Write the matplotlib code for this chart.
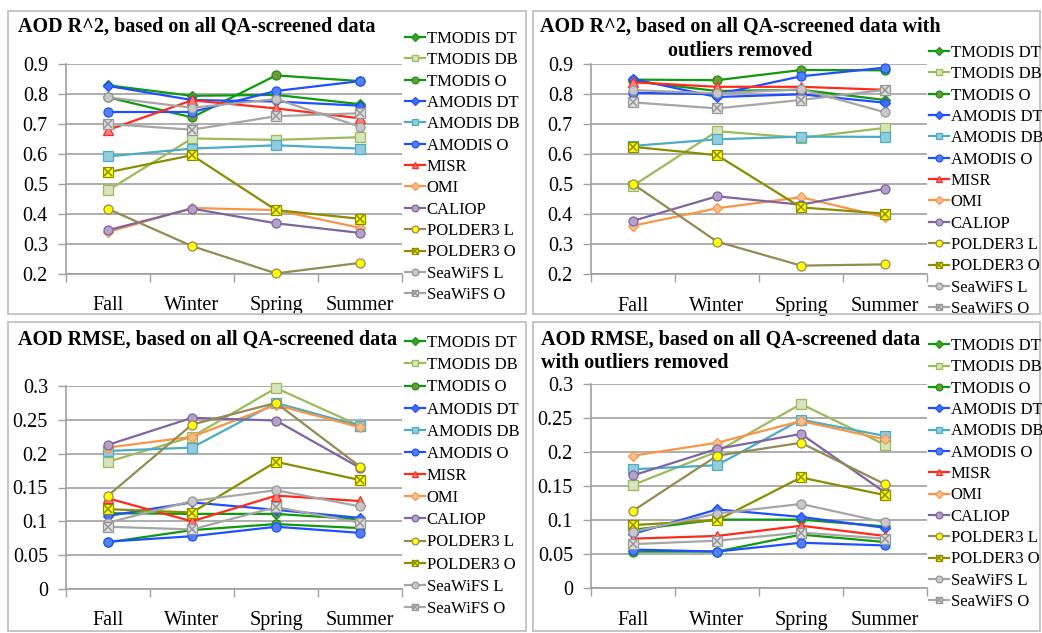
import numpy as np
import matplotlib
matplotlib.use('Agg')
import matplotlib.pyplot as plt
from matplotlib.patches import Rectangle
from matplotlib.ticker import FixedLocator, FuncFormatter

plt.rcParams['font.family'] = 'Liberation Serif'

seasons = ['Fall', 'Winter', 'Spring', 'Summer']
products = ['TMODIS DT', 'TMODIS DB', 'TMODIS O', 'AMODIS DT', 'AMODIS DB', 'AMODIS O',
            'MISR', 'OMI', 'CALIOP', 'POLDER3 L', 'POLDER3 O', 'SeaWiFS L', 'SeaWiFS O']

# R^2, all QA-screened data (one row per product, columns = seasons)
r2_all = [
    [0.829, 0.794, 0.797, 0.766],
    [0.479, 0.652, 0.647, 0.656],
    [0.789, 0.722, 0.862, 0.843],
    [0.827, 0.780, 0.775, 0.761],
    [0.592, 0.618, 0.629, 0.618],
    [0.740, 0.740, 0.810, 0.843],
    [0.680, 0.779, 0.752, 0.719],
    [0.340, 0.420, 0.413, 0.354],
    [0.346, 0.418, 0.369, 0.337],
    [0.417, 0.293, 0.202, 0.237],
    [0.539, 0.596, 0.413, 0.384],
    [0.789, 0.754, 0.783, 0.691],
    [0.700, 0.681, 0.726, 0.736],
]

# R^2, outliers removed
r2_clean = [
    [0.844, 0.811, 0.815, 0.781],
    [0.495, 0.677, 0.655, 0.688],
    [0.849, 0.847, 0.881, 0.880],
    [0.851, 0.791, 0.800, 0.772],
    [0.628, 0.650, 0.659, 0.658],
    [0.805, 0.800, 0.860, 0.889],
    [0.840, 0.825, 0.825, 0.815],
    [0.362, 0.420, 0.457, 0.390],
    [0.378, 0.460, 0.432, 0.485],
    [0.501, 0.309, 0.229, 0.233],
    [0.625, 0.597, 0.423, 0.402],
    [0.814, 0.803, 0.817, 0.740],
    [0.773, 0.753, 0.781, 0.815],
]

# RMSE, all QA-screened data
rmse_all = [
    [0.112, 0.111, 0.111, 0.103],
    [0.188, 0.225, 0.297, 0.241],
    [0.069, 0.087, 0.096, 0.090],
    [0.108, 0.128, 0.117, 0.105],
    [0.204, 0.209, 0.275, 0.241],
    [0.070, 0.078, 0.092, 0.083],
    [0.134, 0.100, 0.138, 0.130],
    [0.209, 0.225, 0.272, 0.239],
    [0.213, 0.253, 0.249, 0.179],
    [0.138, 0.243, 0.275, 0.181],
    [0.118, 0.113, 0.188, 0.161],
    [0.098, 0.130, 0.146, 0.122],
    [0.092, 0.088, 0.121, 0.098],
]

# RMSE, outliers removed
rmse_clean = [
    [0.086, 0.101, 0.101, 0.091],
    [0.152, 0.201, 0.271, 0.211],
    [0.054, 0.054, 0.079, 0.068],
    [0.080, 0.116, 0.105, 0.089],
    [0.175, 0.181, 0.248, 0.224],
    [0.057, 0.054, 0.067, 0.063],
    [0.073, 0.077, 0.092, 0.077],
    [0.195, 0.214, 0.246, 0.219],
    [0.166, 0.205, 0.227, 0.141],
    [0.114, 0.195, 0.214, 0.153],
    [0.093, 0.100, 0.163, 0.137],
    [0.083, 0.110, 0.124, 0.097],
    [0.065, 0.070, 0.082, 0.073],
]

# line colour, marker, marker face, marker edge, x drawn on top
styles = {
    'TMODIS DT': ('#0E990E', 'D', '#4E9A2E', '#0E990E', False),
    'TMODIS DB': ('#9BBB59', 's', '#D7E4BD', '#9BBB59', False),
    'TMODIS O':  ('#0E990E', 'o', '#77933C', '#0E990E', False),
    'AMODIS DT': ('#1F4FFF', 'D', '#3F6FFF', '#1F4FFF', False),
    'AMODIS DB': ('#4BACC6', 's', '#93CDDD', '#4BACC6', False),
    'AMODIS O':  ('#1F4FFF', 'o', '#4F81FF', '#1F4FFF', False),
    'MISR':      ('#FF2A1A', '^', '#FF7F7F', '#FF2A1A', False),
    'OMI':       ('#F79646', 'D', '#FAC090', '#F79646', False),
    'CALIOP':    ('#8064A2', 'o', '#B3A2C7', '#8064A2', False),
    'POLDER3 L': ('#948A54', 'o', '#FFFF00', '#948A54', False),
    'POLDER3 O': ('#8C8C00', 's', '#FFFF00', '#8C8C00', True),
    'SeaWiFS L': ('#A6A6A6', 'o', '#C8C8C8', '#969696', False),
    'SeaWiFS O': ('#A6A6A6', 's', '#E0E0E0', '#969696', True),
}

W, H = 1042, 633
fig = plt.figure(figsize=(W / 100, H / 100), dpi=100)

GRID = '#A0A0A0'


def px_axes(x0, y0, x1, y1):
    return fig.add_axes([x0 / W, 1 - y1 / H, (x1 - x0) / W, (y1 - y0) / H])


def border(x0, y0, x1, y1):
    fig.add_artist(Rectangle((x0 / W, 1 - y1 / H), (x1 - x0) / W, (y1 - y0) / H,
                             transform=fig.transFigure, fill=False,
                             ec='#C0C0C0', lw=1.3))


def title_line(x, y, s, ha):
    fig.text(x / W, 1 - y / H, s, ha=ha, va='center', fontsize=14.5, fontweight='bold')


def panel(box, data, ylim, ystep, leg_xy, leg_sp):
    ax = px_axes(*box)
    x = np.arange(len(seasons))
    handles = []
    for name, vals in zip(products, data):
        lc, mk, fc, ec, xo = styles[name]
        ln, = ax.plot(x, vals, color=lc, lw=1.6, marker=mk, ms=6.5 if mk != 'D' else 5.5,
                      mfc=fc, mec=ec, mew=0.9, clip_on=False, zorder=3)
        if xo:
            xm, = ax.plot(x, vals, ls='none', marker='x', ms=5.5, mec=ec, mew=1.1,
                          clip_on=False, zorder=4)
            handles.append((ln, xm))
        else:
            handles.append(ln)

    ax.set_xlim(-0.5, len(seasons) - 0.5)
    ax.set_ylim(*ylim)
    yt = np.round(np.arange(ylim[0], ylim[1] + ystep / 2, ystep), 3)
    ax.set_yticks(yt)
    ax.yaxis.set_major_formatter(FuncFormatter(lambda v, p: f'{v:g}'))
    ax.set_xticks(x)
    ax.set_xticklabels(seasons)
    ax.xaxis.set_minor_locator(FixedLocator(np.arange(-0.5, len(seasons), 1.0)))
    ax.tick_params(axis='x', which='major', length=0, pad=16, labelsize=14.5)
    ax.tick_params(axis='x', which='minor', length=6, width=1, color=GRID, direction='out')
    ax.tick_params(axis='y', length=6, width=1, color=GRID, direction='out', pad=7,
                   labelsize=14.5)
    ax.yaxis.grid(True, color=GRID, lw=1.2)
    ax.set_axisbelow(True)
    for s in ['top', 'right']:
        ax.spines[s].set_visible(False)
    for s in ['left', 'bottom']:
        ax.spines[s].set_color(GRID)
        ax.spines[s].set_linewidth(1.2)
    ax.patch.set_alpha(0)

    fig.legend(handles, products, loc='upper left',
               bbox_to_anchor=(leg_xy[0] / W, 1 - leg_xy[1] / H),
               frameon=False, fontsize=12, handlelength=1.2, handletextpad=0.1,
               labelspacing=leg_sp, borderpad=0, borderaxespad=0, markerscale=0.75)
    return ax


border(8, 11, 526, 314)
border(533, 11, 1040, 314)
border(8, 322, 526, 631)
border(533, 322, 1040, 631)

panel((66, 64, 402, 274), r2_all, (0.2, 0.9), 0.1, (405, 31), 0.32)
title_line(18, 27, 'AOD R^2, based on all QA-screened data', 'left')

panel((591, 64.3, 927, 274.3), r2_clean, (0.2, 0.9), 0.1, (929, 45), 0.32)
title_line(740, 27, 'AOD R^2, based on all QA-screened data with', 'center')
title_line(740, 51, 'outliers removed', 'center')

panel((66, 386, 402, 589), rmse_all, (0.0, 0.3), 0.05, (405, 335), 0.37)
title_line(18, 340, 'AOD RMSE, based on all QA-screened data', 'left')

panel((591, 384.3, 927, 588.3), rmse_clean, (0.0, 0.3), 0.05, (929, 338), 0.32)
title_line(541, 340, 'AOD RMSE, based on all QA-screened data', 'left')
title_line(541, 363, 'with outliers removed', 'left')

fig.savefig('out.png', dpi=100)
